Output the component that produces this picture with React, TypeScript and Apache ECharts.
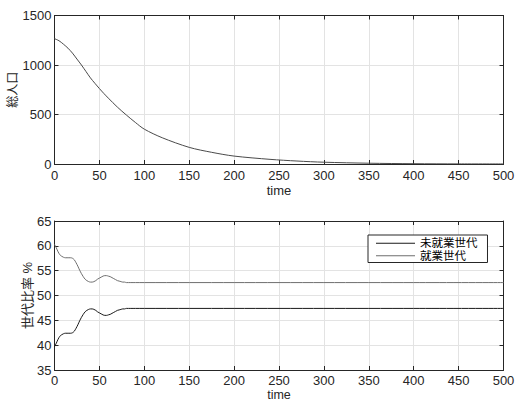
import React, { useEffect, useRef } from "react";
import * as echarts from "echarts";

// Top panel: total population over time
const popTime = [0, 5, 10, 15, 20, 25, 30, 35, 40, 45, 50, 55, 60, 70, 80, 90, 100, 120, 150, 175, 200, 240, 270, 300, 350, 400, 450, 500];
const popValues = [1266, 1245, 1210, 1170, 1120, 1060, 1000, 935, 870, 815, 762, 712, 665, 575, 495, 420, 352, 265, 168, 118, 80, 47, 30, 18, 8, 3, 1, 0.5];

// Bottom panel: generation ratio (%)
const ratioTime = [0, 2, 4, 6, 8, 10, 12, 14, 16, 18, 20, 22, 24, 26, 28, 30, 32, 34, 36, 38, 40, 42, 44, 46, 48, 50, 52, 54, 56, 58, 60, 62, 64, 66, 68, 70, 72, 74, 76, 78, 80, 85, 90, 100, 150, 200, 300, 400, 500];
const nonWorking = [39.7, 40.4, 41.2, 41.8, 42.1, 42.3, 42.4, 42.4, 42.4, 42.4, 42.5, 42.8, 43.4, 44.1, 44.9, 45.6, 46.2, 46.7, 47.0, 47.2, 47.3, 47.3, 47.2, 47.0, 46.7, 46.5, 46.3, 46.1, 46.0, 46.0, 46.1, 46.2, 46.4, 46.6, 46.8, 47.0, 47.1, 47.2, 47.3, 47.3, 47.4, 47.4, 47.4, 47.4, 47.4, 47.4, 47.4, 47.4, 47.4];
const working = [60.3, 59.6, 58.8, 58.2, 57.9, 57.7, 57.6, 57.6, 57.6, 57.6, 57.5, 57.2, 56.6, 55.9, 55.1, 54.4, 53.8, 53.3, 53.0, 52.8, 52.7, 52.7, 52.8, 53.0, 53.3, 53.5, 53.7, 53.9, 54.0, 54.0, 53.9, 53.8, 53.6, 53.4, 53.2, 53.0, 52.9, 52.8, 52.7, 52.7, 52.6, 52.6, 52.6, 52.6, 52.6, 52.6, 52.6, 52.6, 52.6];

const seriesNames = ["未就業世代", "就業世代"];
const xTicks = { min: 0, max: 500, interval: 50 };

const FONT = "'Liberation Sans', 'Noto Sans CJK JP', sans-serif";
const AX = "#262626";
const GRIDC = "#e3e3e3";

function pairs(t: number[], v: number[]) {
  return t.map((x, i) => [x, v[i]]);
}

export default function App() {
  const ref = useRef<HTMLDivElement>(null);
  useEffect(() => {
    if (!ref.current) return;
    const chart = echarts.init(ref.current, null, { renderer: "svg" });
    const label = { color: AX, fontSize: 13, lineHeight: 13, fontFamily: FONT, formatter: (v: number) => String(v) };
    const mkX = (gridIndex: number, top: boolean, nameGap: number, nameSize: number, margin: number) => ({
      type: "value",
      gridIndex,
      position: top ? "top" : "bottom",
      min: xTicks.min,
      max: xTicks.max,
      interval: xTicks.interval,
      name: top ? "" : "time",
      nameLocation: "middle",
      nameGap,
      nameMoveOverlap: false,
      nameTextStyle: { color: AX, fontSize: nameSize, lineHeight: 11, fontFamily: FONT },
      axisLine: { show: true, onZero: false, lineStyle: { color: AX, width: 1 } },
      axisTick: { show: true, inside: true, length: 4, lineStyle: { color: AX } },
      axisLabel: top ? { show: false } : { ...label, margin },
      splitLine: { show: !top, lineStyle: { color: GRIDC, width: 1 } },
    });
    const mkY = (
      gridIndex: number,
      right: boolean,
      min: number,
      max: number,
      interval: number,
      name: string,
      nameGap: number,
      nameSize: number
    ) => ({
      type: "value",
      gridIndex,
      position: right ? "right" : "left",
      min,
      max,
      interval,
      name: right ? "" : name,
      nameLocation: "middle",
      nameGap,
      nameMoveOverlap: false,
      nameRotate: 90,
      nameTextStyle: { color: AX, fontSize: nameSize, fontFamily: FONT },
      axisLine: { show: true, onZero: false, lineStyle: { color: AX, width: 1 } },
      axisTick: { show: true, inside: true, length: 4, lineStyle: { color: AX } },
      axisLabel: right ? { show: false } : { ...label, margin: 3 },
      splitLine: { show: !right, lineStyle: { color: GRIDC, width: 1 } },
    });
    chart.setOption({
      animation: false,
      backgroundColor: "#ffffff",
      grid: [
        { left: 54.5, top: 15.5, width: 449, height: 148.5, containLabel: false, outerBoundsMode: "none" },
        { left: 54.5, top: 221, width: 449, height: 149, containLabel: false, outerBoundsMode: "none" },
      ],
      xAxis: [mkX(0, false, 20.5, 13, 5), mkX(0, true, 0, 13, 5), mkX(1, false, 19.5, 12.5, 4), mkX(1, true, 0, 13, 5)],
      yAxis: [
        mkY(0, false, 0, 1500, 500, "総人口", 36, 12),
        mkY(0, true, 0, 1500, 500, "", 0, 12),
        mkY(1, false, 35, 65, 5, "世代比率 %", 21, 13),
        mkY(1, true, 35, 65, 5, "", 0, 13),
      ],
      legend: {
        data: seriesNames.map((n) => ({ name: n, icon: "rect" })),
        orient: "vertical",
        left: 368,
        top: 235,
        padding: [2.5, 10, 1, 8],
        itemGap: 1,
        itemWidth: 39,
        itemHeight: 1,
        itemTextGap: 7,
        borderColor: AX,
        borderWidth: 1,
        backgroundColor: "#ffffff",
        textStyle: { color: "#000", fontSize: 11.5, lineHeight: 11.5, fontFamily: FONT, padding: [0, 0, 0, 0] },
      },
      series: [
        {
          type: "line",
          name: "総人口",
          xAxisIndex: 0,
          yAxisIndex: 0,
          data: pairs(popTime, popValues),
          smooth: 0.3,
          symbol: "none",
          lineStyle: { color: "#4a4a4a", width: 1 },
          itemStyle: { color: "#4a4a4a" },
        },
        {
          type: "line",
          name: seriesNames[0],
          xAxisIndex: 2,
          yAxisIndex: 2,
          data: pairs(ratioTime, nonWorking),
          smooth: 0.3,
          symbol: "none",
          lineStyle: { color: "#1a1a1a", width: 1 },
          itemStyle: { color: "#1a1a1a" },
        },
        {
          type: "line",
          name: seriesNames[1],
          xAxisIndex: 2,
          yAxisIndex: 2,
          data: pairs(ratioTime, working),
          smooth: 0.3,
          symbol: "none",
          lineStyle: { color: "#6e6e6e", width: 1 },
          itemStyle: { color: "#6e6e6e" },
        },
      ],
    });
    return () => chart.dispose();
  }, []);
  return (
    <div
      ref={ref}
      style={{ position: "fixed", left: 0, top: 0, width: 516, height: 401, background: "#fff" }}
    />
  );
}
